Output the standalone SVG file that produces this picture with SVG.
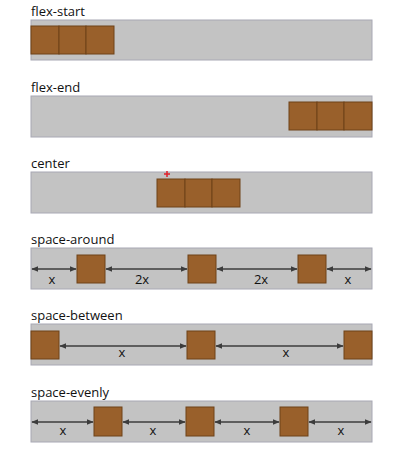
<svg xmlns="http://www.w3.org/2000/svg" width="420" height="451" viewBox="0 0 420 451">
<defs>
<marker id="ah" viewBox="0 0 10 10" refX="9" refY="5" markerWidth="7" markerHeight="7" markerUnits="userSpaceOnUse" orient="auto-start-reverse"><path d="M0,1 L10,5 L0,9 z" fill="#3c3c3c"/></marker>
</defs>
<style>
.title{font-family:"Open Sans","Noto Sans",sans-serif;font-size:13px;fill:#111}
.lbl{font-family:"Open Sans","Noto Sans",sans-serif;font-size:13px;fill:#111;text-anchor:middle}
.cont{fill:#c3c3c3;stroke:#a8a8b4;stroke-width:1}
.box{fill:#99602b;stroke:#6e4219;stroke-width:1}
.arr{stroke:#3c3c3c;stroke-width:1.7;fill:none;marker-start:url(#ah);marker-end:url(#ah)}
</style>
<rect width="420" height="451" fill="#fff"/>

<g id="flex-start">
<text class="title" x="31" y="16">flex-start</text>
<rect class="cont" x="31" y="20" width="341" height="40"/>
<rect class="box" x="31" y="26" width="28" height="28"/>
<rect class="box" x="59" y="26" width="27" height="28"/>
<rect class="box" x="86" y="26" width="28" height="28"/>
</g>

<g id="flex-end">
<text class="title" x="31" y="92">flex-end</text>
<rect class="cont" x="31" y="96" width="341" height="41"/>
<rect class="box" x="289" y="102" width="28" height="28"/>
<rect class="box" x="317" y="102" width="27" height="28"/>
<rect class="box" x="344" y="102" width="28" height="28"/>
</g>

<g id="center">
<text class="title" x="31" y="168">center</text>
<rect class="cont" x="31" y="172" width="341" height="41"/>
<rect class="box" x="157" y="179" width="28" height="28"/>
<rect class="box" x="185" y="179" width="27" height="28"/>
<rect class="box" x="212" y="179" width="28" height="28"/>
<path d="M164,174 h6 M167,171 v6" stroke="#e0202a" stroke-width="1.5"/>
</g>

<g id="space-around">
<text class="title" x="31" y="244">space-around</text>
<rect class="cont" x="31" y="248" width="341" height="41"/>
<rect class="box" x="77" y="255" width="28" height="28"/>
<rect class="box" x="188" y="255" width="28" height="28"/>
<rect class="box" x="298" y="255" width="28" height="28"/>
<text class="lbl" x="52" y="284">x</text>
<text class="lbl" x="142" y="284">2x</text>
<text class="lbl" x="261" y="284">2x</text>
<text class="lbl" x="348" y="284">x</text>
</g>

<g id="space-between">
<text class="title" x="31" y="320">space-between</text>
<rect class="cont" x="31" y="324" width="341" height="41"/>
<rect class="box" x="31" y="331" width="28" height="28"/>
<rect class="box" x="187" y="331" width="28" height="28"/>
<rect class="box" x="344" y="331" width="28" height="28"/>
<text class="lbl" x="122" y="357">x</text>
<text class="lbl" x="286" y="357">x</text>
</g>

<g id="space-evenly">
<text class="title" x="31" y="397">space-evenly</text>
<rect class="cont" x="31" y="401" width="341" height="41"/>
<rect class="box" x="94" y="407" width="28" height="29"/>
<rect class="box" x="186" y="407" width="28" height="29"/>
<rect class="box" x="280" y="407" width="28" height="29"/>
<text class="lbl" x="63" y="435">x</text>
<text class="lbl" x="153" y="435">x</text>
<text class="lbl" x="247" y="435">x</text>
<text class="lbl" x="341" y="435">x</text>
</g>

<g id="connectors">
<line class="arr" x1="32" y1="269" x2="76" y2="269"/>
<line class="arr" x1="106" y1="269" x2="187" y2="269"/>
<line class="arr" x1="217" y1="269" x2="297" y2="269"/>
<line class="arr" x1="327" y1="269" x2="371" y2="269"/>
<line class="arr" x1="60" y1="346" x2="186" y2="346"/>
<line class="arr" x1="216" y1="346" x2="343" y2="346"/>
<line class="arr" x1="32" y1="422" x2="93" y2="422"/>
<line class="arr" x1="123" y1="422" x2="185" y2="422"/>
<line class="arr" x1="215" y1="422" x2="279" y2="422"/>
<line class="arr" x1="309" y1="422" x2="371" y2="422"/>
</g>
</svg>
